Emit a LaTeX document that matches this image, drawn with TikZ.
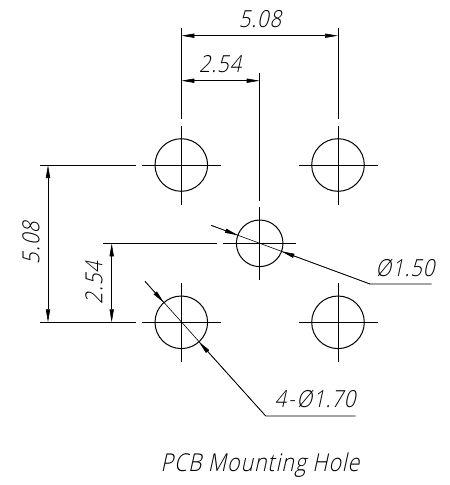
\documentclass[tikz,border=0pt]{standalone}
\usepackage{fontspec}
\setmainfont{Open Sans}[UprightFont=* Light,FakeSlant=0.22,FakeStretch=0.86,LetterSpace=4]
\usetikzlibrary{arrows.meta,calc}
\tikzset{
  thinln/.style={line width=0.6pt,black},
  arr/.style={thinln,-{Triangle[length=13pt,width=4.2pt]}},
  dimarr/.style={thinln,{Triangle[length=13pt,width=4.2pt]}-{Triangle[length=13pt,width=4.2pt]}},
  hole/.style={circle,draw,line width=1pt,inner sep=0pt,minimum size=52.6pt},
  smallhole/.style={hole,minimum size=46.6pt},
  dimtext/.style={font=\fontsize{23.5}{24}\selectfont,inner sep=0pt},
  captext/.style={font=\fontsize{24.6}{25}\selectfont,inner sep=0pt}
}
\begin{document}
\begin{tikzpicture}[x=1pt,y=-1pt]
\useasboundingbox (0,0) rectangle (450,485);
\fill[white] (0,0) rectangle (450,485);
% holes
\node[hole] (tl) at (181.3,165) {};
\node[hole] (tr) at (338,165) {};
\node[hole] (bl) at (181.3,322.3) {};
\node[hole] (br) at (338,322.3) {};
\node[smallhole] (cc) at (259.7,243.3) {};
% centre marks
\foreach \h in {tl,tr,bl,br}{
  \draw[thinln] ($(\h.center)+(-39.5,0)$) -- ($(\h.center)+(39.5,0)$);
  \draw[thinln] ($(\h.center)+(0,-39.5)$) -- ($(\h.center)+(0,39.5)$);
}
\draw[thinln] ($(cc.center)+(-36.7,0)$) -- ($(cc.center)+(36.7,0)$);
\draw[thinln] ($(cc.center)+(0,-36.3)$) -- ($(cc.center)+(0,36.7)$);
% extension lines
\coordinate (e1a) at (181.3,28);   \coordinate (e1b) at (181.3,119.3);
\coordinate (e2a) at (338,28);     \coordinate (e2b) at (338,119.3);
\coordinate (e3a) at (259.7,72.7); \coordinate (e3b) at (259.7,201.3);
\coordinate (e4a) at (40,165);     \coordinate (e4b) at (136,165);
\coordinate (e5a) at (40,322.3);   \coordinate (e5b) at (136,322.3);
\coordinate (e6a) at (103.3,243.3);\coordinate (e6b) at (217.3,243.3);
\draw[thinln] (e1a)--(e1b) (e2a)--(e2b) (e3a)--(e3b) (e4a)--(e4b) (e5a)--(e5b) (e6a)--(e6b);
% dimensions
\coordinate (d1l) at (181.3,35.7); \coordinate (d1r) at (338,35.7);
\coordinate (d2l) at (181.3,80.7); \coordinate (d2r) at (259.7,80.7);
\coordinate (d3t) at (48,165);     \coordinate (d3b) at (48,322.3);
\coordinate (d4t) at (111.7,243.3);\coordinate (d4b) at (111.7,322.3);
\draw[dimarr] (d1l)--(d1r);
\draw[dimarr] (d2l)--(d2r);
\draw[dimarr] (d3t)--(d3b);
\draw[dimarr] (d4t)--(d4b);
% leaders
\coordinate (l1s) at (211,225.3); \coordinate (l1e) at (370,284); \coordinate (l1f) at (431.7,284);
\coordinate (l2s) at (145,281.3); \coordinate (l2e) at (265.7,416); \coordinate (l2f) at (355.7,416);
\draw[thinln] (l1s)--(l1e)--(l1f);
\draw[thinln] (l2s)--(l2e)--(l2f);
\draw[arr] (l1s) -- ($(cc.center)!23.3pt!(l1s)$);
\draw[arr] (l1e) -- ($(cc.center)!23.3pt!(l1e)$);
\draw[arr] (l2s) -- ($(bl.center)!26.3pt!(l2s)$);
\draw[arr] (l2e) -- ($(bl.center)!26.3pt!(l2e)$);
% labels
\node[dimtext] (t1) at (260,19) {5.08};
\node[dimtext] (t2) at (220,64) {2.54};
\node[dimtext,rotate=90] (t3) at (31,243) {5.08};
\node[dimtext,rotate=90] (t4) at (94,283) {2.54};
\node[dimtext] (t5) at (405,268) {Ø1.50};
\node[dimtext] (t6) at (315,399) {4\kern2pt-\kern2ptØ1.70};
\node[captext] (t7) at (260,465) {PCB Mounting Hole};
\end{tikzpicture}
\end{document}
